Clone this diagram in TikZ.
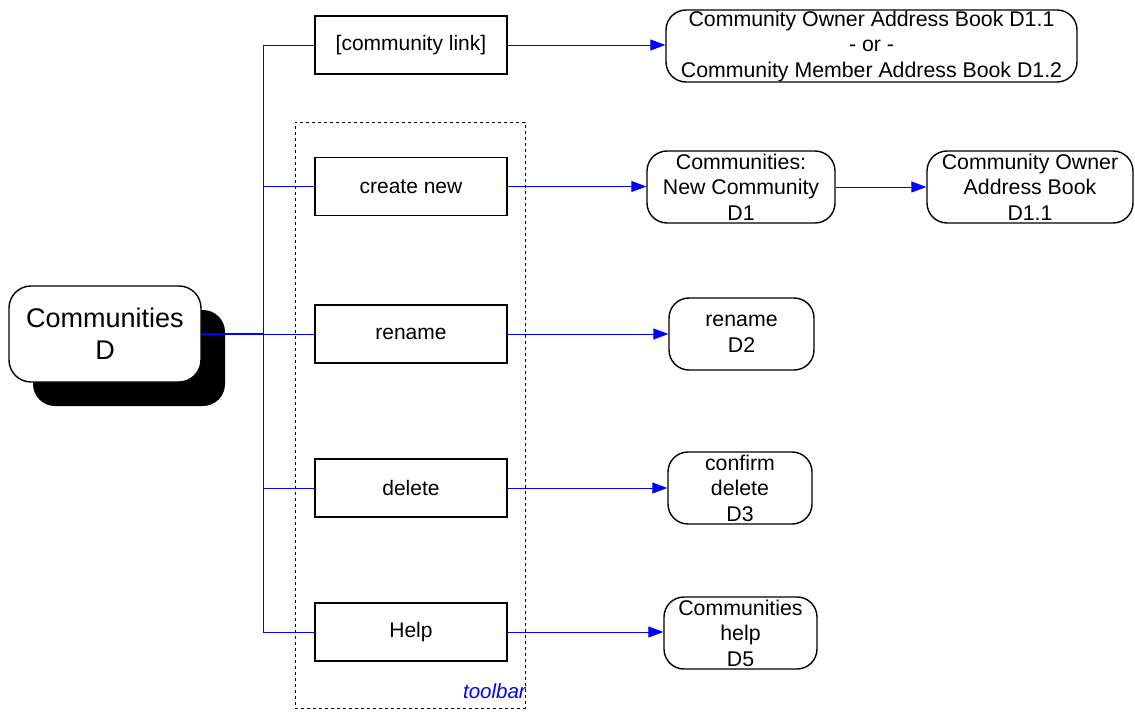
\documentclass[tikz,border=0pt]{standalone}
\usepackage{fontspec}
\setmainfont{Liberation Sans}
\usetikzlibrary{arrows.meta}
\begin{document}
\begin{tikzpicture}[x=1pt,y=-1pt,
  btn/.style={draw=black,line width=1.4pt,minimum width=192pt,minimum height=58pt,inner sep=0pt,font=\fontsize{21}{24}\selectfont},
  tgt/.style={draw=black,line width=1.4pt,rounded corners=20pt,minimum height=72pt,inner sep=0pt,align=center,font=\fontsize{21.3}{25.5}\selectfont},
  link/.style={draw=blue,line width=0.9pt},
  arr/.style={link,-{Triangle[length=15pt,width=11pt]}}]
\useasboundingbox (0,0) rectangle (1135,714);
% toolbar frame
\node[draw=black,dashed,line width=0.8pt,minimum width=230pt,minimum height=586pt,inner sep=0pt] (toolbar) at (410,415) {};
\node[anchor=south east,inner sep=0pt,text=blue,font=\fontsize{20.5}{22}\selectfont\itshape] (tlabel) at (526,699) {toolbar};
% main node
\node[fill=black,rounded corners=22pt,minimum width=192pt,minimum height=96pt] (shadow) at (129,358) {};
\node[draw=black,fill=white,line width=1.4pt,rounded corners=22pt,minimum width=192pt,minimum height=96pt,inner sep=0pt,align=center,font=\fontsize{27}{32}\selectfont] (main) at (105,334) {Communities\\D};
% buttons
\node[btn] (blink) at (411,45) {[community link]};
\node[btn] (bnew) at (411,186.5) {create new};
\node[btn] (bren) at (411,334) {rename};
\node[btn] (bdel) at (411,488) {delete};
\node[btn] (bhelp) at (411,632) {Help};
% targets
\node[tgt,minimum width=411pt] (t1) at (871.5,46) {Community Owner Address Book D1.1\\- or -\\Community Member Address Book D1.2};
\node[tgt,minimum width=188pt] (t2) at (741,187) {Communities:\\New Community\\D1};
\node[tgt,minimum width=206pt] (t3) at (1030,187) {Community Owner\\Address Book\\D1.1};
\node[tgt,minimum width=145pt] (t4) at (741.5,334) {rename\\D2};
\node[tgt,minimum width=144pt] (t5) at (740,488) {confirm\\delete\\D3};
\node[tgt,minimum width=153pt] (t6) at (740.5,633) {Communities\\help\\D5};
% junctions
\coordinate (j1) at (263,45);
\coordinate (j2) at (263,186.5);
\coordinate (j3) at (263,334);
\coordinate (j4) at (263,488);
\coordinate (j5) at (263,632);
\draw[link] (j1) -- (j5);
\draw[draw=blue,line width=2pt] (main.east) -- (j3);
\draw[link] (j1) -- (blink.west);
\draw[link] (j2) -- (bnew.west);
\draw[link] (j3) -- (bren.west);
\draw[link] (j4) -- (bdel.west);
\draw[link] (j5) -- (bhelp.west);
% arrows
\draw[arr] (blink.east) -- (blink.east -| t1.west);
\draw[arr] (bnew.east) -- (bnew.east -| t2.west);
\draw[arr] (t2.east) -- (t3.west);
\draw[arr] (bren.east) -- (bren.east -| t4.west);
\draw[arr] (bdel.east) -- (bdel.east -| t5.west);
\draw[arr] (bhelp.east) -- (bhelp.east -| t6.west);
\end{tikzpicture}
\end{document}
